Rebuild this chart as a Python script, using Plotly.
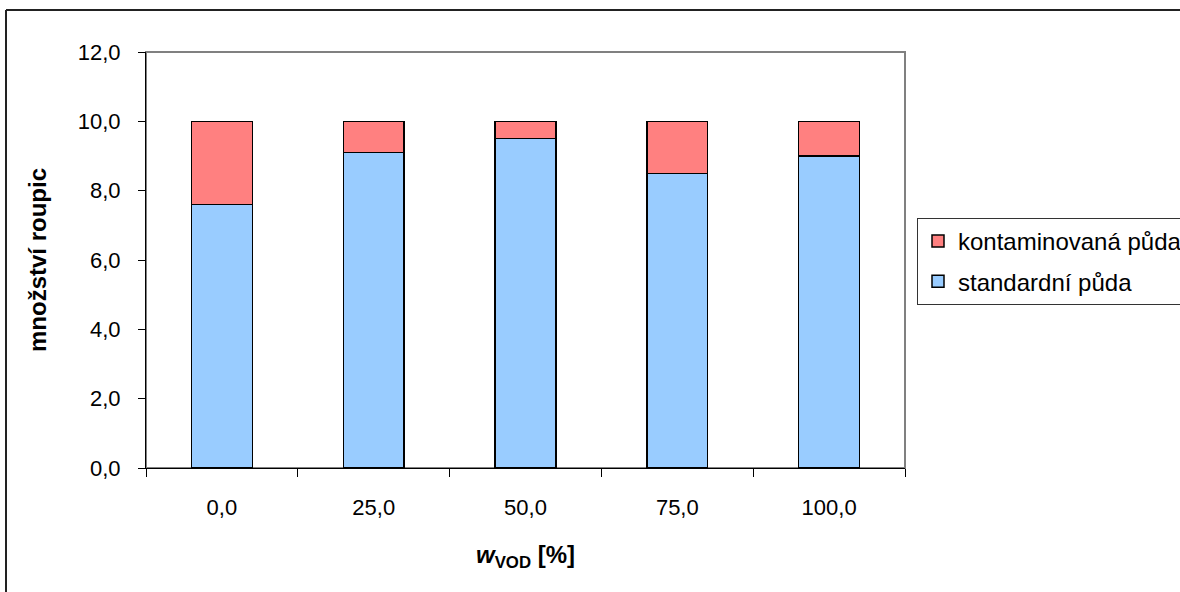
import plotly.graph_objects as go

categories = ["0,0", "25,0", "50,0", "75,0", "100,0"]
standardni = [7.6, 9.1, 9.5, 8.5, 9.0]
kontaminovana = [2.4, 0.9, 0.5, 1.5, 1.0]
y_ticks = [0, 2, 4, 6, 8, 10, 12]

W, H = 1180, 592
L, R, T, B = 146, 275, 52, 124
pw, ph = W - L - R, H - T - B

def px_x(p):
    return (p - L) / pw

def px_y(p):
    return (H - B - p) / ph

FONT = "Arial, Liberation Sans, sans-serif"

fig = go.Figure()
fig.add_trace(go.Bar(
    x=categories, y=standardni, name="standardní půda",
    marker=dict(color="#99CCFF", line=dict(color="black", width=1.5)),
    legendgroup="a", legendrank=2,
))
fig.add_trace(go.Bar(
    x=categories, y=kontaminovana, name="kontaminovaná půda",
    marker=dict(color="#FF8080", line=dict(color="black", width=1.5)),
    legendgroup="b", legendrank=1,
))

fig.update_layout(
    width=W, height=H,
    margin=dict(l=L, r=R, t=T, b=B, autoexpand=False),
    barmode="stack", bargap=0.6,
    separators=", ",
    paper_bgcolor="white", plot_bgcolor="white",
    font=dict(family=FONT, size=22, color="black"),
    showlegend=True,
    legend=dict(
        x=px_x(917), y=px_y(218), xanchor="left", yanchor="top",
        traceorder="grouped", tracegroupgap=6,
        bordercolor="#333333", borderwidth=1, bgcolor="white",
        font=dict(family=FONT, size=24, color="black"),
        itemwidth=30,
    ),
    xaxis=dict(
        type="category", showline=True, linecolor="black", linewidth=1,
        ticks="outside", ticklen=8, tickcolor="black", tickson="boundaries",
        showgrid=False, ticklabelstandoff=20,
        title=dict(text="<b><i>w</i><sub>VOD</sub> [%]</b>", standoff=26,
                   font=dict(family=FONT, size=24)),
    ),
    yaxis=dict(
        range=[0, 12], tickvals=y_ticks, tickformat=".1f",
        showline=True, linecolor="black", linewidth=1,
        ticks="outside", ticklen=7, tickcolor="black",
        showgrid=False, zeroline=False, ticklabelstandoff=13,
        title=dict(text="<b>množství roupic</b>", standoff=24,
                   font=dict(family=FONT, size=24)),
    ),
    shapes=[
        dict(type="rect", xref="paper", yref="paper", x0=0, x1=1, y0=0, y1=1,
             line=dict(color="#808080", width=2), layer="below"),
        dict(type="line", xref="paper", yref="paper",
             x0=px_x(6), x1=px_x(6), y0=px_y(10), y1=px_y(592),
             line=dict(color="#222222", width=2), layer="below"),
        dict(type="line", xref="paper", yref="paper",
             x0=px_x(6), x1=px_x(1180), y0=px_y(10), y1=px_y(10),
             line=dict(color="#222222", width=2), layer="below"),
    ],
)

fig.write_html("out.html")
